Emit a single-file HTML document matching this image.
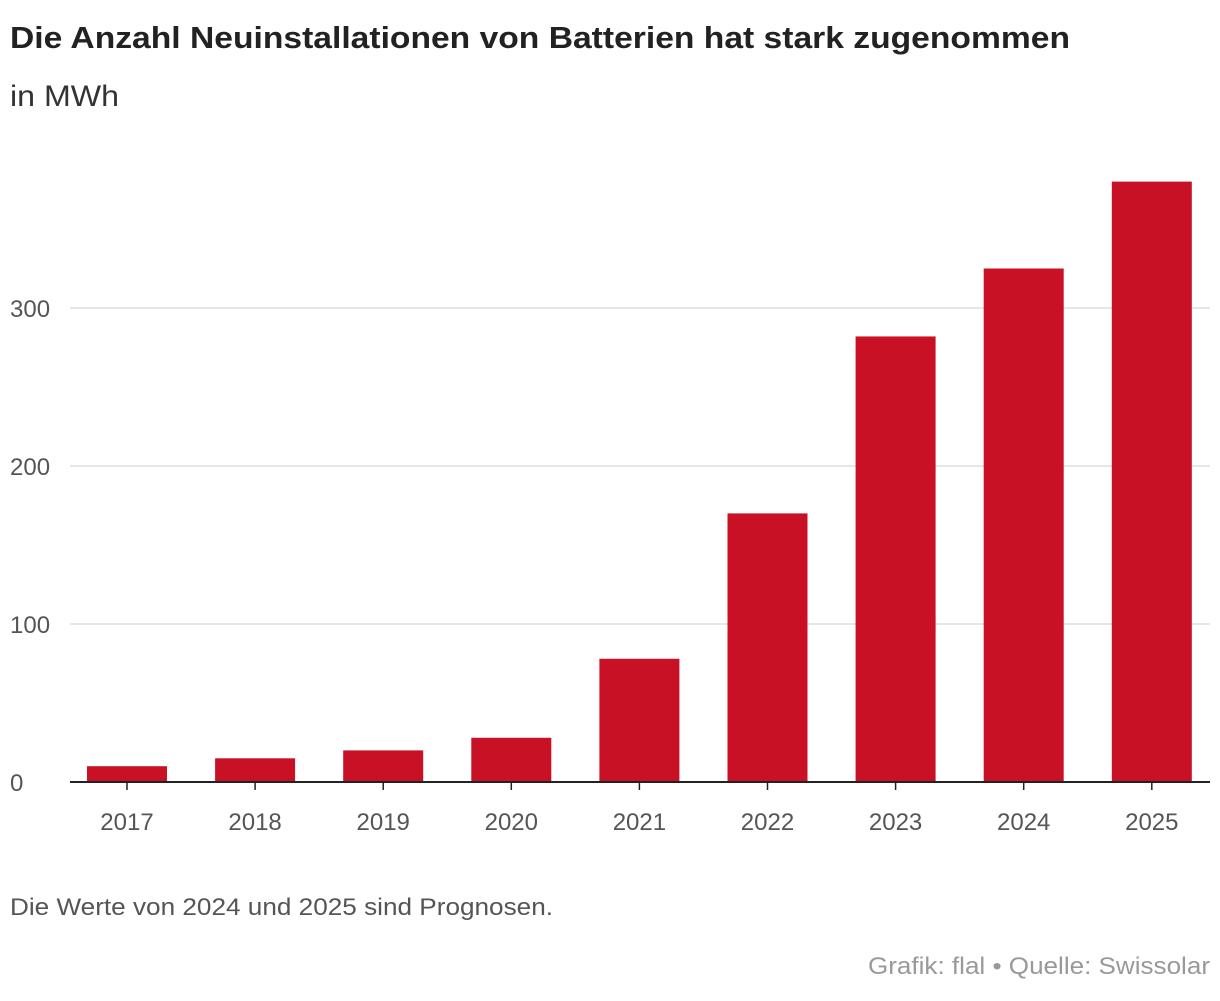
<!DOCTYPE html>
<html><head><meta charset="utf-8"><style>
body{margin:0;background:#fff;width:1220px;height:996px;overflow:hidden;font-family:"Liberation Sans",sans-serif}
svg text{font-family:"Liberation Sans",sans-serif}
</style></head><body>
<svg width="1220" height="996">
<text x="10" y="48" font-size="31" font-weight="bold" fill="#222" textLength="1060" lengthAdjust="spacingAndGlyphs">Die Anzahl Neuinstallationen von Batterien hat stark zugenommen</text>
<text x="10" y="106" font-size="30" fill="#333" textLength="109" lengthAdjust="spacingAndGlyphs">in MWh</text>
<g id="grid"></g><g id="bars"></g><g id="xaxis"></g>
<text x="10" y="915" font-size="24" fill="#555" textLength="543" lengthAdjust="spacingAndGlyphs">Die Werte von 2024 und 2025 sind Prognosen.</text>
<text x="1210" y="974" font-size="24" fill="#999" text-anchor="end" textLength="342" lengthAdjust="spacingAndGlyphs">Grafik: flal • Quelle: Swissolar</text>
</svg>
<script>
const categories=["2017","2018","2019","2020","2021","2022","2023","2024","2025"];
const values=[10,15,20,28,78,170,282,325,380];
const yTicks=[0,100,200,300];
const ns="http://www.w3.org/2000/svg";
function y(v){return 782-v*1.58;}
function xc(i){return 127+i*128.1;}
function mk(t,a,p){const e=document.createElementNS(ns,t);for(const k in a)e.setAttribute(k,a[k]);p.appendChild(e);return e;}
const g=document.getElementById('grid'),b=document.getElementById('bars'),xa=document.getElementById('xaxis');
yTicks.forEach(v=>{
 if(v>0){const l=mk('line',{x1:70,x2:1210,y1:y(v),y2:y(v),stroke:'#ddd','stroke-width':1.5},g);
 
 }
 const t=mk('text',{x:10,y:y(v)+9,'font-size':24,fill:'#555'},g);t.textContent=v;
 
 
});
values.forEach((v,i)=>{
 const r=mk('rect',{x:xc(i)-40,y:y(v),width:80,height:782-y(v),fill:'#c91126'},b);
 
 
 mk('line',{x1:xc(i),x2:xc(i),y1:782,y2:790,stroke:'#222','stroke-width':1.5},xa);
 const t=mk('text',{x:xc(i),y:830,'font-size':24,fill:'#555','text-anchor':'middle'},xa);t.textContent=categories[i];
 
 
});
const ax=mk('line',{x1:70,x2:1210,y1:782,y2:782,stroke:'#222','stroke-width':2},xa);


</script>
</body></html>
